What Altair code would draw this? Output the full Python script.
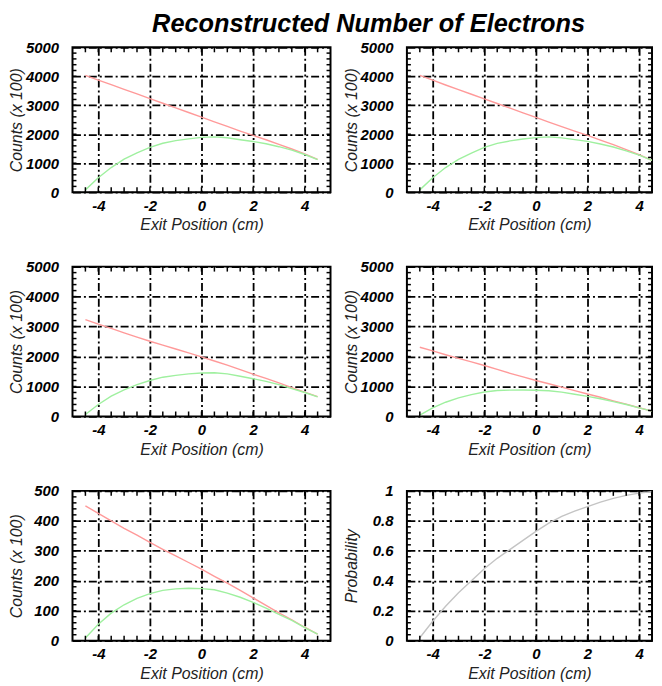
import altair as alt
import pandas as pd

FONT = "Liberation Sans"

# ---------------- data ----------------
x_pos = [-4.5, -4.0, -3.5, -3.0, -2.5, -2.0, -1.5, -1.0, -0.5, 0.0,
         0.5, 1.0, 1.5, 2.0, 2.5, 3.0, 3.5, 4.0, 4.5]

red_p1 = [4030, 3870, 3710, 3550, 3390, 3230, 3070, 2910, 2750, 2590,
          2430, 2270, 2110, 1960, 1810, 1650, 1490, 1320, 1130]
green_p1 = [80, 500, 850, 1140, 1360, 1550, 1690, 1780, 1840, 1890,
            1910, 1880, 1810, 1750, 1670, 1570, 1450, 1300, 1125]

red_p2 = [4030, 3870, 3700, 3540, 3380, 3220, 3060, 2900, 2740, 2580,
          2420, 2260, 2110, 1960, 1800, 1640, 1470, 1300, 1100]
green_p2 = [80, 500, 850, 1130, 1350, 1545, 1685, 1770, 1835, 1885,
            1910, 1875, 1815, 1755, 1665, 1560, 1425, 1280, 1095]

red_p3 = [3230, 3080, 2940, 2790, 2650, 2510, 2380, 2250, 2120, 1990,
          1850, 1710, 1560, 1410, 1270, 1120, 960, 810, 660]
green_p3 = [65, 400, 680, 890, 1060, 1200, 1310, 1370, 1420, 1450,
            1460, 1420, 1340, 1260, 1170, 1060, 930, 800, 655]

red_p4 = [2310, 2190, 2060, 1940, 1820, 1700, 1570, 1440, 1320, 1200,
          1090, 980, 860, 750, 640, 520, 410, 290, 180]
green_p4 = [45, 285, 475, 620, 730, 815, 865, 880, 885, 875,
            860, 810, 740, 670, 590, 495, 400, 285, 180]

red_p5 = [450, 425, 400, 375, 352, 328, 305, 283, 261, 239,
          215, 192, 168, 143, 118, 93, 70, 45, 22]
green_p5 = [9, 55, 92, 120, 141, 157, 168, 173, 175, 174,
            170, 159, 145, 128, 109, 88, 68, 44, 22]

prob_p6 = [0.02, 0.13, 0.23, 0.32, 0.40, 0.48, 0.55, 0.61, 0.67, 0.73,
           0.785, 0.83, 0.865, 0.895, 0.925, 0.95, 0.97, 0.985, 0.995]

# axis ticks
x_major = [-4, -2, 0, 2, 4]
x_minor = [-4.5, -4.0, -3.5, -3.0, -2.5, -2.0, -1.5, -1.0, -0.5, 0.0,
           0.5, 1.0, 1.5, 2.0, 2.5, 3.0, 3.5, 4.0, 4.5]
y_major_5000 = [0, 1000, 2000, 3000, 4000, 5000]
y_major_500 = [0, 100, 200, 300, 400, 500]
y_major_prob = [0, 0.2, 0.4, 0.6, 0.8, 1]

title_text = "Reconstructed Number of Electrons"
x_title = "Exit Position (cm)"
y_title_counts = "Counts (x 100)"
y_title_prob = "Probability"

RED = "#ff9a9a"
GREEN = "#9ff09f"
GRAY = "#c4c4c4"


def minor_of(major):
    step = (major[1] - major[0]) / 5.0
    n = int(round((major[-1] - major[0]) / step))
    return [major[0] + i * step for i in range(1, n)]


def panel(series, colors, y_major, y_title, width, height, xmax=5.0):
    xs = alt.Scale(domain=[-5, xmax], nice=False, zero=False)
    ys = alt.Scale(domain=[y_major[0], y_major[-1]], nice=False, zero=False)
    df = pd.DataFrame({"x": x_pos})
    for i, s in enumerate(series):
        df[f"s{i}"] = s

    xaxis = alt.Axis(values=x_major, title=x_title, grid=True, ticks=False,
                     domain=False, labelPadding=6, titlePadding=4,
                     minExtent=21, maxExtent=21,
                     labelExpr="toString(datum.value)")
    yaxis = alt.Axis(values=y_major, title=y_title, grid=True, ticks=False,
                     domain=False, labelPadding=14, titlePadding=2,
                     minExtent=46, maxExtent=46,
                     labelExpr="toString(datum.value)")

    layers = []
    for i, c in enumerate(colors):
        layers.append(
            alt.Chart(df).mark_line(color=c, strokeWidth=1.4, clip=True).encode(
                x=alt.X("x:Q", scale=xs, axis=xaxis),
                y=alt.Y(f"s{i}:Q", scale=ys, axis=yaxis),
            )
        )

    xm = pd.DataFrame({"v": x_minor})
    ym = pd.DataFrame({"v": minor_of(y_major)})
    tick = dict(color="black", strokeWidth=1.5)
    layers.append(alt.Chart(xm).mark_rule(**tick).encode(
        x=alt.X("v:Q", scale=xs, axis=xaxis), y=alt.value(height), y2=alt.value(height - 5)))
    layers.append(alt.Chart(xm).mark_rule(**tick).encode(
        x=alt.X("v:Q", scale=xs, axis=xaxis), y=alt.value(0), y2=alt.value(5)))
    layers.append(alt.Chart(ym).mark_rule(**tick).encode(
        y=alt.Y("v:Q", scale=ys, axis=yaxis), x=alt.value(0), x2=alt.value(4)))
    layers.append(alt.Chart(ym).mark_rule(**tick).encode(
        y=alt.Y("v:Q", scale=ys, axis=yaxis), x=alt.value(width), x2=alt.value(width - 4)))

    return alt.layer(*layers).properties(width=width, height=height)


WL, WR, XR = 260, 247, 4.5
H1, H2, H3 = 146, 151, 151

p1 = panel([red_p1, green_p1], [RED, GREEN], y_major_5000, y_title_counts, WL, H1)
p2 = panel([red_p2, green_p2], [RED, GREEN], y_major_5000, y_title_counts, WR, H1, XR)
p3 = panel([red_p3, green_p3], [RED, GREEN], y_major_5000, y_title_counts, WL, H2)
p4 = panel([red_p4, green_p4], [RED, GREEN], y_major_5000, y_title_counts, WR, H2, XR)
p5 = panel([red_p5, green_p5], [RED, GREEN], y_major_500, y_title_counts, WL, H3)
p6 = panel([prob_p6], [GRAY], y_major_prob, y_title_prob, WR, H3, XR)

chart = alt.vconcat(
    alt.hconcat(p1, p2, spacing=10),
    alt.hconcat(p3, p4, spacing=10),
    alt.hconcat(p5, p6, spacing=10),
    spacing=25,
).properties(
    title=alt.TitleParams(title_text, font=FONT, fontSize=25.5, fontStyle="italic",
                          fontWeight="bold", color="black", anchor="middle",
                          dx=38, offset=2),
    padding={"left": 0, "top": 1, "right": 0, "bottom": 0},
    background="white",
).configure_view(
    stroke="black", strokeWidth=2
).configure_axis(
    labelFont=FONT, labelFontSize=15, labelFontStyle="italic", labelFontWeight="bold",
    labelColor="black",
    titleFont=FONT, titleFontSize=16, titleFontStyle="italic", titleFontWeight="normal",
    titleColor="#222222",
    gridColor="black", gridOpacity=1, gridWidth=1.8, gridDash=[8, 3, 2, 3],
)

chart.save("out.html", embed_options={"renderer": "svg", "actions": False})
